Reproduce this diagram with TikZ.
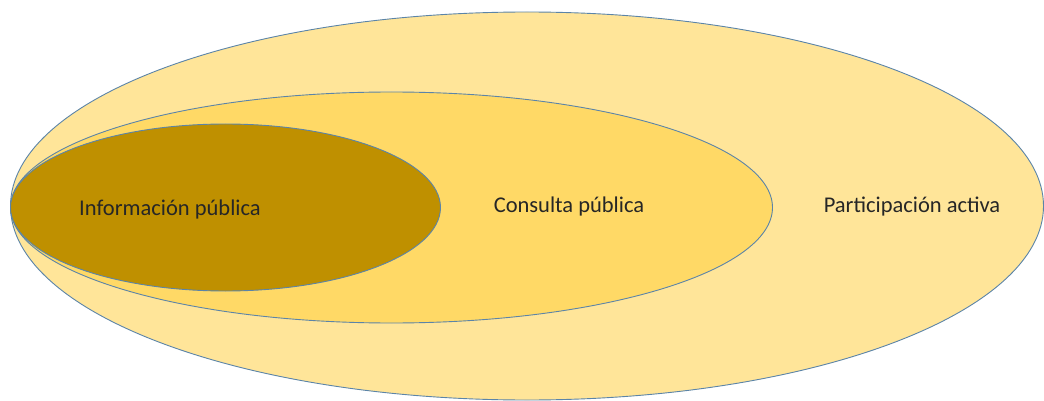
\documentclass[tikz,border=0pt]{standalone}
\usepackage{fontspec}
\setmainfont{Carlito}
\usepackage{tikz}

\definecolor{capa1}{HTML}{FFE599}
\definecolor{capa2}{HTML}{FFD966}
\definecolor{capa3}{HTML}{BF9000}
\definecolor{borde}{HTML}{5B84A8}

\begin{document}
\begin{tikzpicture}[x=1pt, y=-1pt, every path/.style={draw=borde, line width=0.9pt}, every node/.style={draw=none, font=\fontsize{22.5}{26}\selectfont, text=black!85}]
				\useasboundingbox[draw=none] (0,0) rectangle (1044,401);
				
				\path[fill=capa1] (527,206) ellipse [x radius=516.5, y radius=194];
				\path[fill=capa2] (391.5,207.5) ellipse [x radius=381, y radius=115.5];
				\path[fill=capa3] (225.5,207.5) ellipse [x radius=215, y radius=83.5];
				
				\node (info) at (170,210){Información pública};
				\node (consulta) at (569,207){Consulta pública};
				\node (participa) at (912,207){Participación activa};
				\end{tikzpicture}
\end{document}
